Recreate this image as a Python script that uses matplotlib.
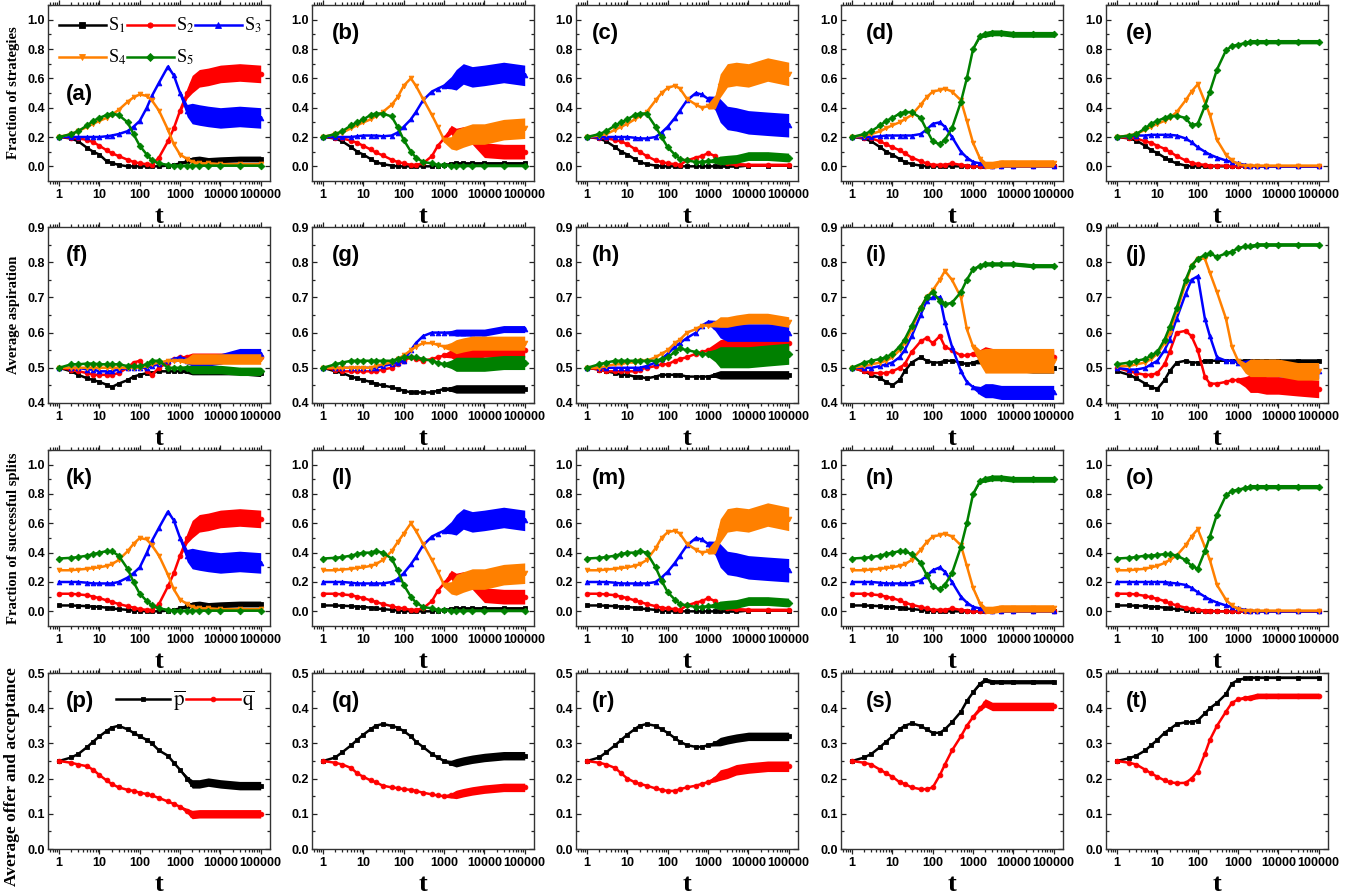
import numpy as np
import matplotlib
matplotlib.use('Agg')
import matplotlib.pyplot as plt
from matplotlib.ticker import FixedLocator, LogLocator, NullFormatter

plt.rcParams['font.family'] = ['Liberation Sans', 'DejaVu Sans']
plt.rcParams['mathtext.fontset'] = 'stix'

# ---------------- data ----------------
T = [1, 2, 3, 5, 7, 10, 15, 20, 30, 50, 70, 100, 150, 200, 300,
     500, 700, 1000, 1500, 2000, 3000, 5000, 10000, 30000, 100000]

# Row 1: fraction of strategies
a_s1 = [0.20, 0.19, 0.17, 0.125, 0.10,  0.08, 0.035, 0.023, 0.01, 0.0,  0.0, 0.0, 0.0, 0.0, 0.0,  0.005, 0.01, 0.02, 0.035, 0.045,  0.05, 0.04, 0.045, 0.05, 0.05]
a_s2 = [0.20, 0.195, 0.19, 0.18, 0.165,  0.14, 0.11, 0.09, 0.07, 0.045,  0.03, 0.02, 0.015, 0.01, 0.06,  0.17, 0.26, 0.38, 0.50, 0.56,  0.60, 0.61, 0.63, 0.64, 0.63]
a_s3 = [0.20, 0.20, 0.20, 0.20, 0.20,  0.20, 0.205, 0.21, 0.22, 0.24,  0.27, 0.31, 0.40, 0.48, 0.57,  0.68, 0.62, 0.50, 0.38, 0.36,  0.35, 0.34, 0.33, 0.34, 0.33]
a_s4 = [0.20, 0.22, 0.24, 0.27, 0.29,  0.31, 0.33, 0.35, 0.385, 0.44,  0.47, 0.49, 0.48, 0.45, 0.38,  0.25, 0.15, 0.08, 0.05, 0.03,  0.02, 0.02, 0.015, 0.015, 0.015]
a_s5 = [0.20, 0.22, 0.24, 0.28, 0.31,  0.33, 0.35, 0.36, 0.35, 0.30,  0.22, 0.14, 0.08, 0.04, 0.02,  0.01, 0.005, 0.005, 0.005, 0.005,  0.005, 0.005, 0.005, 0.005, 0.005]

b_s1 = [0.20, 0.19, 0.17, 0.13, 0.10,  0.08, 0.05, 0.03, 0.015, 0.005,  0.0, 0.0, 0.0, 0.0, 0.0,  0.0, 0.005, 0.01, 0.015, 0.02,  0.02, 0.02, 0.02, 0.02, 0.02]
b_s2 = [0.20, 0.195, 0.19, 0.175, 0.16,  0.14, 0.115, 0.095, 0.075, 0.045,  0.03, 0.02, 0.01, 0.01, 0.02,  0.07, 0.14, 0.19, 0.25, 0.21,  0.22, 0.20, 0.11, 0.10, 0.10]
b_s3 = [0.20, 0.20, 0.20, 0.20, 0.205,  0.21, 0.21, 0.21, 0.205, 0.21,  0.23, 0.27, 0.32, 0.37, 0.45,  0.51, 0.53, 0.55, 0.57, 0.59,  0.63, 0.61, 0.62, 0.64, 0.62]
b_s4 = [0.20, 0.22, 0.23, 0.26, 0.28,  0.30, 0.32, 0.34, 0.37, 0.42,  0.47, 0.55, 0.60, 0.55, 0.46,  0.35, 0.27, 0.18, 0.16, 0.18,  0.20, 0.22, 0.22, 0.25, 0.26]
b_s5 = [0.20, 0.22, 0.24, 0.28, 0.30,  0.32, 0.35, 0.36, 0.36, 0.34,  0.27, 0.18, 0.10, 0.06, 0.03,  0.02, 0.01, 0.01, 0.005, 0.005,  0.005, 0.005, 0.005, 0.005, 0.005]

c_s1 = [0.20, 0.19, 0.17, 0.13, 0.10,  0.08, 0.05, 0.03, 0.015, 0.005,  0.0, 0.0, 0.0, 0.0, 0.0,  0.0, 0.0, 0.0, 0.0, 0.0,  0.0, 0.0, 0.005, 0.005, 0.005]
c_s2 = [0.20, 0.195, 0.19, 0.18, 0.17,  0.15, 0.12, 0.10, 0.07, 0.04,  0.03, 0.02, 0.015, 0.01, 0.04,  0.06, 0.07, 0.09, 0.07, 0.03,  0.02, 0.015, 0.01, 0.01, 0.01]
c_s3 = [0.20, 0.20, 0.20, 0.20, 0.20,  0.20, 0.195, 0.19, 0.19, 0.20,  0.23, 0.27, 0.33, 0.38, 0.45,  0.50, 0.49, 0.46, 0.43, 0.38,  0.33, 0.32, 0.30, 0.29, 0.28]
c_s4 = [0.20, 0.21, 0.22, 0.25, 0.27,  0.29, 0.32, 0.34, 0.37, 0.45,  0.50, 0.535, 0.55, 0.53, 0.46,  0.42, 0.40, 0.41, 0.44, 0.55,  0.62, 0.63, 0.62, 0.66, 0.63]
c_s5 = [0.20, 0.22, 0.24, 0.28, 0.30,  0.32, 0.35, 0.36, 0.36, 0.27,  0.20, 0.13, 0.08, 0.05, 0.04,  0.03, 0.03, 0.035, 0.04, 0.04,  0.045, 0.05, 0.07, 0.07, 0.06]

d_s1 = [0.20, 0.19, 0.17, 0.13, 0.10,  0.08, 0.05, 0.03, 0.015, 0.005,  0.0, 0.0, 0.0, 0.0, 0.0,  0.0, 0.0, 0.0, 0.0, 0.0,  0.0, 0.0, 0.0, 0.0, 0.0]
d_s2 = [0.20, 0.195, 0.19, 0.17, 0.15,  0.13, 0.11, 0.09, 0.06, 0.035,  0.02, 0.01, 0.01, 0.01, 0.02,  0.01, 0.005, 0.0, 0.0, 0.0,  0.0, 0.0, 0.0, 0.0, 0.0]
d_s3 = [0.20, 0.20, 0.20, 0.205, 0.21,  0.21, 0.21, 0.21, 0.21, 0.22,  0.25, 0.29, 0.30, 0.27, 0.20,  0.10, 0.06, 0.03, 0.02, 0.01,  0.005, 0.0, 0.0, 0.0, 0.0]
d_s4 = [0.20, 0.21, 0.22, 0.24, 0.26,  0.28, 0.30, 0.32, 0.35, 0.42,  0.47, 0.51, 0.52, 0.53, 0.51,  0.45, 0.31, 0.16, 0.05, 0.01,  0.01, 0.02, 0.02, 0.02, 0.02]
d_s5 = [0.20, 0.22, 0.24, 0.28, 0.31,  0.33, 0.36, 0.37, 0.37, 0.33,  0.25, 0.17, 0.15, 0.18, 0.26,  0.44, 0.60, 0.80, 0.89, 0.90,  0.91, 0.91, 0.90, 0.90, 0.90]

e_s1 = [0.20, 0.19, 0.175, 0.14, 0.11,  0.09, 0.06, 0.04, 0.02, 0.005,  0.0, 0.0, 0.0, 0.0, 0.0,  0.0, 0.0, 0.0, 0.0, 0.0,  0.0, 0.0, 0.0, 0.0, 0.0]
e_s2 = [0.20, 0.195, 0.19, 0.17, 0.16,  0.14, 0.12, 0.10, 0.07, 0.04,  0.025, 0.015, 0.01, 0.005, 0.005,  0.005, 0.0, 0.0, 0.0, 0.0,  0.0, 0.0, 0.0, 0.0, 0.0]
e_s3 = [0.20, 0.205, 0.21, 0.21, 0.215,  0.215, 0.215, 0.215, 0.21, 0.19,  0.165, 0.13, 0.10, 0.08, 0.06,  0.04, 0.03, 0.02, 0.01, 0.005,  0.0, 0.0, 0.0, 0.0, 0.0]
e_s4 = [0.20, 0.21, 0.22, 0.25, 0.27,  0.29, 0.31, 0.33, 0.37, 0.45,  0.51, 0.56, 0.44, 0.35, 0.18,  0.08, 0.04, 0.015, 0.005, 0.005,  0.005, 0.005, 0.005, 0.005, 0.005]
e_s5 = [0.20, 0.21, 0.22, 0.26, 0.29,  0.31, 0.33, 0.34, 0.345, 0.33,  0.28, 0.29, 0.41, 0.51, 0.66,  0.79, 0.82, 0.83, 0.84, 0.85,  0.85, 0.85, 0.85, 0.85, 0.85]

# Row 2: average aspiration
f_s1 = [0.50, 0.49, 0.48, 0.47, 0.465,  0.46, 0.452, 0.445, 0.455, 0.465,  0.475, 0.48, 0.485, 0.485, 0.49,  0.49, 0.49, 0.49, 0.49, 0.49,  0.49, 0.49, 0.49, 0.49, 0.485]
f_s2 = [0.50, 0.495, 0.49, 0.485, 0.48,  0.48, 0.48, 0.48, 0.485, 0.50,  0.515, 0.52, 0.49, 0.48, 0.50,  0.515, 0.525, 0.53, 0.53, 0.53,  0.53, 0.53, 0.53, 0.53, 0.53]
f_s3 = [0.50, 0.50, 0.50, 0.495, 0.495,  0.49, 0.49, 0.49, 0.495, 0.50,  0.50, 0.50, 0.50, 0.505, 0.51,  0.52, 0.525, 0.53, 0.52, 0.52,  0.52, 0.52, 0.525, 0.54, 0.54]
f_s4 = [0.50, 0.50, 0.50, 0.50, 0.50,  0.50, 0.50, 0.50, 0.50, 0.50,  0.50, 0.50, 0.505, 0.51, 0.515,  0.52, 0.52, 0.52, 0.52, 0.525,  0.525, 0.525, 0.525, 0.525, 0.525]
f_s5 = [0.50, 0.51, 0.51, 0.512, 0.512,  0.51, 0.51, 0.51, 0.51, 0.505,  0.505, 0.505, 0.51, 0.52, 0.52,  0.50, 0.50, 0.50, 0.50, 0.495,  0.495, 0.495, 0.495, 0.49, 0.49]

g_s1 = [0.50, 0.49, 0.485, 0.475, 0.47,  0.465, 0.46, 0.455, 0.45, 0.445,  0.44, 0.435, 0.43, 0.43, 0.43,  0.43, 0.435, 0.44, 0.44, 0.44,  0.44, 0.44, 0.44, 0.44, 0.44]
g_s2 = [0.50, 0.495, 0.49, 0.49, 0.49,  0.49, 0.49, 0.49, 0.495, 0.50,  0.51, 0.52, 0.53, 0.525, 0.52,  0.525, 0.53, 0.535, 0.54, 0.54,  0.545, 0.545, 0.55, 0.55, 0.55]
g_s3 = [0.50, 0.50, 0.50, 0.50, 0.50,  0.50, 0.50, 0.50, 0.505, 0.51,  0.515, 0.52, 0.55, 0.57, 0.59,  0.60, 0.60, 0.60, 0.60, 0.60,  0.60, 0.60, 0.60, 0.61, 0.61]
g_s4 = [0.50, 0.50, 0.50, 0.50, 0.50,  0.50, 0.50, 0.505, 0.51, 0.515,  0.525, 0.535, 0.55, 0.56, 0.57,  0.57, 0.565, 0.56, 0.56, 0.56,  0.565, 0.57, 0.57, 0.57, 0.57]
g_s5 = [0.50, 0.51, 0.515, 0.52, 0.52,  0.52, 0.52, 0.52, 0.52, 0.52,  0.525, 0.53, 0.53, 0.53, 0.525,  0.52, 0.515, 0.51, 0.51, 0.51,  0.51, 0.51, 0.51, 0.515, 0.515]

h_s1 = [0.50, 0.495, 0.49, 0.485, 0.48,  0.48, 0.475, 0.475, 0.47, 0.475,  0.48, 0.48, 0.48, 0.48, 0.475,  0.475, 0.475, 0.475, 0.48, 0.48,  0.48, 0.48, 0.48, 0.48, 0.48]
h_s2 = [0.50, 0.495, 0.49, 0.49, 0.49,  0.49, 0.49, 0.495, 0.50, 0.505,  0.51, 0.51, 0.52, 0.525, 0.53,  0.54, 0.545, 0.55, 0.555, 0.555,  0.56, 0.56, 0.56, 0.565, 0.57]
h_s3 = [0.50, 0.50, 0.50, 0.50, 0.50,  0.50, 0.50, 0.50, 0.505, 0.515,  0.525, 0.54, 0.56, 0.57, 0.585,  0.60, 0.62, 0.63, 0.62, 0.61,  0.60, 0.60, 0.60, 0.60, 0.60]
h_s4 = [0.50, 0.50, 0.505, 0.51, 0.51,  0.515, 0.515, 0.52, 0.52, 0.53,  0.54, 0.55, 0.57, 0.58, 0.60,  0.61, 0.62, 0.62, 0.625, 0.63,  0.63, 0.635, 0.64, 0.64, 0.63]
h_s5 = [0.50, 0.51, 0.515, 0.52, 0.52,  0.52, 0.52, 0.52, 0.52, 0.52,  0.525, 0.53, 0.545, 0.555, 0.55,  0.545, 0.54, 0.54, 0.535, 0.53,  0.53, 0.53, 0.53, 0.535, 0.54]

i_s1 = [0.50, 0.49, 0.48, 0.47, 0.46,  0.45, 0.465, 0.49, 0.515, 0.53,  0.52, 0.515, 0.515, 0.52, 0.52,  0.515, 0.51, 0.515, 0.52, 0.52,  0.515, 0.51, 0.505, 0.50, 0.50]
i_s2 = [0.50, 0.49, 0.485, 0.485, 0.485,  0.49, 0.50, 0.51, 0.545, 0.575,  0.585, 0.57, 0.59, 0.56, 0.55,  0.535, 0.535, 0.54, 0.54, 0.54,  0.535, 0.53, 0.53, 0.53, 0.53]
i_s3 = [0.50, 0.50, 0.50, 0.505, 0.51,  0.515, 0.53, 0.55, 0.59, 0.65,  0.69, 0.70, 0.70, 0.63, 0.56,  0.49, 0.46, 0.445, 0.435, 0.435,  0.435, 0.43, 0.43, 0.43, 0.43]
i_s4 = [0.50, 0.505, 0.51, 0.515, 0.52,  0.53, 0.55, 0.57, 0.61, 0.67,  0.70, 0.72, 0.75, 0.775, 0.75,  0.70, 0.61, 0.56, 0.53, 0.52,  0.52, 0.52, 0.52, 0.52, 0.52]
i_s5 = [0.50, 0.515, 0.52, 0.525, 0.53,  0.54, 0.56, 0.58, 0.62, 0.67,  0.70, 0.715, 0.69, 0.68, 0.685,  0.715, 0.75, 0.78, 0.79, 0.795,  0.795, 0.795, 0.795, 0.79, 0.79]

j_s1 = [0.49, 0.48, 0.47, 0.455, 0.445,  0.44, 0.465, 0.49, 0.515, 0.52,  0.515, 0.515, 0.52, 0.52, 0.52,  0.52, 0.52, 0.52, 0.52, 0.52,  0.52, 0.52, 0.52, 0.52, 0.52]
j_s2 = [0.50, 0.49, 0.485, 0.48, 0.48,  0.485, 0.51, 0.545, 0.60, 0.605,  0.59, 0.55, 0.475, 0.455, 0.455,  0.46, 0.465, 0.465, 0.46, 0.455,  0.455, 0.45, 0.45, 0.445, 0.44]
j_s3 = [0.50, 0.495, 0.495, 0.50, 0.51,  0.52, 0.55, 0.58, 0.64, 0.71,  0.75, 0.76, 0.64, 0.59, 0.53,  0.52, 0.52, 0.515, 0.51, 0.505,  0.50, 0.50, 0.495, 0.49, 0.49]
j_s4 = [0.505, 0.505, 0.51, 0.515, 0.525,  0.54, 0.57, 0.60, 0.66, 0.74,  0.79, 0.81, 0.81, 0.77, 0.715,  0.64, 0.56, 0.52, 0.50, 0.50,  0.50, 0.50, 0.50, 0.49, 0.49]
j_s5 = [0.51, 0.515, 0.52, 0.525, 0.535,  0.545, 0.58, 0.615, 0.67, 0.75,  0.79, 0.81, 0.82, 0.825, 0.815,  0.825, 0.83, 0.84, 0.845, 0.845,  0.85, 0.85, 0.85, 0.85, 0.85]

# Row 3: fraction of successful splits
k_s1 = [0.04, 0.04, 0.038, 0.035, 0.032,  0.03, 0.025, 0.02, 0.015, 0.01,  0.005, 0.003, 0.0, 0.0, 0.0,  0.005, 0.01, 0.02, 0.035, 0.045,  0.05, 0.04, 0.045, 0.05, 0.05]
k_s2 = [0.12, 0.12, 0.115, 0.11, 0.10,  0.09, 0.075, 0.065, 0.05, 0.035,  0.025, 0.015, 0.01, 0.01, 0.05,  0.17, 0.26, 0.38, 0.50, 0.56,  0.60, 0.61, 0.63, 0.64, 0.63]
k_s3 = [0.20, 0.20, 0.20, 0.195, 0.19,  0.19, 0.19, 0.19, 0.20, 0.23,  0.26, 0.30, 0.40, 0.48, 0.57,  0.68, 0.62, 0.50, 0.38, 0.36,  0.35, 0.34, 0.33, 0.34, 0.33]
k_s4 = [0.28, 0.28, 0.285, 0.29, 0.295,  0.30, 0.31, 0.32, 0.35, 0.41,  0.46, 0.50, 0.49, 0.45, 0.38,  0.25, 0.15, 0.08, 0.05, 0.03,  0.02, 0.02, 0.015, 0.015, 0.015]
k_s5 = [0.36, 0.365, 0.37, 0.38, 0.39,  0.40, 0.41, 0.41, 0.38, 0.29,  0.20, 0.12, 0.07, 0.04, 0.02,  0.01, 0.005, 0.005, 0.005, 0.005,  0.005, 0.005, 0.005, 0.005, 0.005]

l_s1 = [0.04, 0.04, 0.038, 0.035, 0.032,  0.03, 0.025, 0.02, 0.015, 0.01,  0.005, 0.003, 0.0, 0.0, 0.0,  0.0, 0.005, 0.01, 0.015, 0.02,  0.02, 0.02, 0.02, 0.02, 0.02]
l_s2 = [0.12, 0.12, 0.115, 0.11, 0.10,  0.09, 0.075, 0.065, 0.05, 0.035,  0.025, 0.02, 0.01, 0.01, 0.02,  0.07, 0.14, 0.19, 0.25, 0.21,  0.22, 0.20, 0.11, 0.10, 0.10]
l_s3 = [0.20, 0.20, 0.20, 0.195, 0.19,  0.19, 0.19, 0.19, 0.19, 0.20,  0.22, 0.26, 0.32, 0.37, 0.45,  0.51, 0.53, 0.55, 0.57, 0.59,  0.63, 0.61, 0.62, 0.64, 0.62]
l_s4 = [0.28, 0.28, 0.285, 0.29, 0.295,  0.30, 0.31, 0.32, 0.35, 0.41,  0.47, 0.53, 0.60, 0.55, 0.46,  0.35, 0.27, 0.18, 0.16, 0.18,  0.20, 0.22, 0.22, 0.25, 0.26]
l_s5 = [0.36, 0.365, 0.37, 0.38, 0.39,  0.40, 0.40, 0.41, 0.40, 0.36,  0.28, 0.18, 0.10, 0.06, 0.03,  0.02, 0.01, 0.01, 0.005, 0.005,  0.005, 0.005, 0.005, 0.005, 0.005]

m_s1 = [0.04, 0.04, 0.038, 0.035, 0.032,  0.03, 0.025, 0.02, 0.015, 0.01,  0.005, 0.003, 0.0, 0.0, 0.0,  0.0, 0.0, 0.0, 0.0, 0.0,  0.0, 0.0, 0.005, 0.005, 0.005]
m_s2 = [0.12, 0.12, 0.115, 0.11, 0.10,  0.09, 0.075, 0.065, 0.05, 0.035,  0.025, 0.02, 0.015, 0.01, 0.04,  0.06, 0.07, 0.09, 0.07, 0.03,  0.02, 0.015, 0.01, 0.01, 0.01]
m_s3 = [0.20, 0.20, 0.20, 0.195, 0.19,  0.19, 0.19, 0.19, 0.19, 0.20,  0.23, 0.27, 0.33, 0.38, 0.45,  0.50, 0.49, 0.46, 0.43, 0.38,  0.33, 0.32, 0.30, 0.29, 0.28]
m_s4 = [0.28, 0.28, 0.285, 0.29, 0.295,  0.30, 0.31, 0.32, 0.35, 0.43,  0.50, 0.54, 0.55, 0.53, 0.46,  0.42, 0.40, 0.41, 0.44, 0.55,  0.62, 0.63, 0.62, 0.66, 0.63]
m_s5 = [0.36, 0.365, 0.37, 0.38, 0.39,  0.40, 0.40, 0.41, 0.40, 0.30,  0.21, 0.13, 0.08, 0.05, 0.04,  0.03, 0.03, 0.035, 0.04, 0.04,  0.045, 0.05, 0.07, 0.07, 0.06]

n_s1 = [0.04, 0.04, 0.038, 0.035, 0.032,  0.03, 0.025, 0.02, 0.015, 0.01,  0.005, 0.003, 0.0, 0.0, 0.0,  0.0, 0.0, 0.0, 0.0, 0.0,  0.0, 0.0, 0.0, 0.0, 0.0]
n_s2 = [0.12, 0.12, 0.115, 0.11, 0.10,  0.09, 0.075, 0.06, 0.045, 0.03,  0.02, 0.01, 0.01, 0.01, 0.02,  0.01, 0.005, 0.0, 0.0, 0.0,  0.0, 0.0, 0.0, 0.0, 0.0]
n_s3 = [0.20, 0.20, 0.20, 0.195, 0.19,  0.19, 0.19, 0.19, 0.195, 0.21,  0.24, 0.28, 0.30, 0.27, 0.20,  0.10, 0.06, 0.03, 0.02, 0.01,  0.005, 0.0, 0.0, 0.0, 0.0]
n_s4 = [0.28, 0.28, 0.285, 0.29, 0.295,  0.30, 0.31, 0.32, 0.35, 0.42,  0.47, 0.51, 0.52, 0.53, 0.51,  0.45, 0.31, 0.16, 0.05, 0.01,  0.01, 0.02, 0.02, 0.02, 0.02]
n_s5 = [0.36, 0.365, 0.37, 0.38, 0.39,  0.40, 0.41, 0.41, 0.39, 0.33,  0.25, 0.17, 0.15, 0.18, 0.26,  0.44, 0.60, 0.80, 0.89, 0.90,  0.91, 0.91, 0.90, 0.90, 0.90]

o_s1 = [0.04, 0.04, 0.038, 0.035, 0.032,  0.03, 0.025, 0.02, 0.015, 0.01,  0.005, 0.003, 0.0, 0.0, 0.0,  0.0, 0.0, 0.0, 0.0, 0.0,  0.0, 0.0, 0.0, 0.0, 0.0]
o_s2 = [0.12, 0.12, 0.115, 0.105, 0.095,  0.085, 0.07, 0.055, 0.04, 0.025,  0.015, 0.01, 0.005, 0.005, 0.0,  0.0, 0.0, 0.0, 0.0, 0.0,  0.0, 0.0, 0.0, 0.0, 0.0]
o_s3 = [0.20, 0.20, 0.20, 0.20, 0.20,  0.20, 0.20, 0.195, 0.19, 0.18,  0.16, 0.13, 0.10, 0.08, 0.06,  0.04, 0.03, 0.02, 0.01, 0.005,  0.0, 0.0, 0.0, 0.0, 0.0]
o_s4 = [0.28, 0.28, 0.285, 0.29, 0.30,  0.31, 0.33, 0.35, 0.38, 0.45,  0.51, 0.56, 0.44, 0.35, 0.18,  0.08, 0.04, 0.015, 0.005, 0.005,  0.005, 0.005, 0.005, 0.005, 0.005]
o_s5 = [0.36, 0.365, 0.37, 0.38, 0.38,  0.385, 0.39, 0.39, 0.38, 0.35,  0.31, 0.29, 0.41, 0.51, 0.66,  0.79, 0.82, 0.83, 0.84, 0.85,  0.85, 0.85, 0.85, 0.85, 0.85]

# Row 4: average offer (p) and acceptance (q)
p_p = [0.25, 0.26, 0.27, 0.29, 0.305,  0.32, 0.335, 0.345, 0.35, 0.34,  0.33, 0.32, 0.31, 0.30, 0.28,  0.265, 0.245, 0.225, 0.20, 0.185,  0.185, 0.19, 0.185, 0.18, 0.18]
p_q = [0.25, 0.245, 0.24, 0.235, 0.225,  0.21, 0.195, 0.185, 0.175, 0.168,  0.165, 0.16, 0.156, 0.152, 0.145,  0.135, 0.128, 0.12, 0.108, 0.098,  0.10, 0.10, 0.10, 0.10, 0.10]
q_p = [0.25, 0.26, 0.275, 0.295, 0.31,  0.325, 0.34, 0.35, 0.355, 0.35,  0.345, 0.335, 0.32, 0.305, 0.29,  0.27, 0.26, 0.25, 0.245, 0.245,  0.25, 0.255, 0.26, 0.265, 0.265]
q_q = [0.25, 0.245, 0.24, 0.23, 0.215,  0.205, 0.195, 0.19, 0.18, 0.175,  0.173, 0.17, 0.168, 0.165, 0.16,  0.155, 0.152, 0.15, 0.152, 0.155,  0.16, 0.165, 0.17, 0.175, 0.175]
r_p = [0.25, 0.26, 0.275, 0.295, 0.31,  0.325, 0.34, 0.35, 0.355, 0.35,  0.34, 0.33, 0.315, 0.305, 0.295,  0.29, 0.29, 0.295, 0.30, 0.305,  0.31, 0.315, 0.32, 0.32, 0.32]
r_q = [0.25, 0.245, 0.24, 0.23, 0.215,  0.20, 0.19, 0.185, 0.18, 0.172,  0.168, 0.165, 0.165, 0.17, 0.175,  0.18, 0.185, 0.19, 0.20, 0.21,  0.215, 0.225, 0.23, 0.235, 0.235]
s_p = [0.25, 0.26, 0.27, 0.29, 0.305,  0.32, 0.34, 0.35, 0.357, 0.35,  0.34, 0.33, 0.33, 0.34, 0.36,  0.39, 0.42, 0.445, 0.47, 0.48,  0.475, 0.475, 0.475, 0.475, 0.475]
s_q = [0.25, 0.245, 0.24, 0.225, 0.215,  0.205, 0.19, 0.185, 0.175, 0.17,  0.17, 0.175, 0.21, 0.24, 0.28,  0.32, 0.35, 0.375, 0.40, 0.415,  0.405, 0.405, 0.405, 0.405, 0.405]
t_p = [0.25, 0.258, 0.265, 0.28, 0.295,  0.31, 0.33, 0.34, 0.355, 0.36,  0.36, 0.365, 0.385, 0.40, 0.415,  0.44, 0.47, 0.48, 0.485, 0.487,  0.487, 0.487, 0.487, 0.487, 0.487]
t_q = [0.25, 0.245, 0.24, 0.225, 0.215,  0.205, 0.195, 0.19, 0.187, 0.188,  0.20, 0.22, 0.27, 0.31, 0.35,  0.39, 0.415, 0.425, 0.43, 0.43,  0.435, 0.435, 0.435, 0.435, 0.435]

# late-time fluctuation half-widths (per series)
AMP_ROW1 = [[0.02, 0.06, 0.07, 0.01, 0.005], [0.01, 0.05, 0.07, 0.07, 0.008],
            [0.005, 0.01, 0.08, 0.08, 0.03], [0.0, 0.0, 0.0, 0.025, 0.02],
            [0.0, 0.0, 0.0, 0.005, 0.015]]
AMP_ROW2 = [[0.01, 0.012, 0.015, 0.015, 0.012], [0.012, 0.02, 0.01, 0.02, 0.02],
            [0.012, 0.025, 0.025, 0.015, 0.03], [0.015, 0.02, 0.02, 0.035, 0.006],
            [0.005, 0.025, 0.02, 0.025, 0.005]]
AMP_ROW4 = [[0.012, 0.012], [0.012, 0.012], [0.012, 0.015], [0.006, 0.012], [0.003, 0.008]]

PANEL_LABELS = ['(a)', '(b)', '(c)', '(d)', '(e)', '(f)', '(g)', '(h)', '(i)', '(j)',
                '(k)', '(l)', '(m)', '(n)', '(o)', '(p)', '(q)', '(r)', '(s)', '(t)']
ROW_YLABELS = ['Fraction of strategies', 'Average aspiration',
               'Fraction of successful splits', 'Average offer and acceptance']
SERIES_NAMES = [r'S$_1$', r'S$_2$', r'S$_3$', r'S$_4$', r'S$_5$']
PQ_NAMES = [r'$\overline{\mathrm{p}}$', r'$\overline{\mathrm{q}}$']
X_TICKS = [1, 10, 100, 1000, 10000, 100000]

rows = [
    [[a_s1, a_s2, a_s3, a_s4, a_s5], [b_s1, b_s2, b_s3, b_s4, b_s5], [c_s1, c_s2, c_s3, c_s4, c_s5],
     [d_s1, d_s2, d_s3, d_s4, d_s5], [e_s1, e_s2, e_s3, e_s4, e_s5]],
    [[f_s1, f_s2, f_s3, f_s4, f_s5], [g_s1, g_s2, g_s3, g_s4, g_s5], [h_s1, h_s2, h_s3, h_s4, h_s5],
     [i_s1, i_s2, i_s3, i_s4, i_s5], [j_s1, j_s2, j_s3, j_s4, j_s5]],
    [[k_s1, k_s2, k_s3, k_s4, k_s5], [l_s1, l_s2, l_s3, l_s4, l_s5], [m_s1, m_s2, m_s3, m_s4, m_s5],
     [n_s1, n_s2, n_s3, n_s4, n_s5], [o_s1, o_s2, o_s3, o_s4, o_s5]],
    [[p_p, p_q], [q_p, q_q], [r_p, r_q], [s_p, s_q], [t_p, t_q]],
]
amps = [AMP_ROW1, AMP_ROW2, AMP_ROW1, AMP_ROW4]

COLORS5 = ['black', 'red', 'blue', '#FF8000', '#008000']
MARKERS5 = ['s', 'o', '^', 'v', 'D']
COLORS2 = ['black', 'red']
MARKERS2 = ['s', 'o']

# ---------------- figure ----------------
W, H = 1350, 894
fig = plt.figure(figsize=(W / 100, H / 100), dpi=100)

lefts = [48, 312, 576, 841, 1106]
tops = [5, 227, 450, 673]
aw, ah = 222, 176
ylims = [(-0.1, 1.1), (0.4, 0.9), (-0.1, 1.1), (0.0, 0.5)]
yticks = [[0.0, 0.2, 0.4, 0.6, 0.8, 1.0], [0.4, 0.5, 0.6, 0.7, 0.8, 0.9],
          [0.0, 0.2, 0.4, 0.6, 0.8, 1.0], [0.0, 0.1, 0.2, 0.3, 0.4, 0.5]]
label_x = [0.08, 0.09, 0.07, 0.11, 0.09]
ylabel_size = [10.5, 10.5, 10.5, 12.5]
ylabel_y = [0.5, 0.5, 0.5, 0.41]

tick_font = {'family': 'Liberation Sans', 'weight': 'bold', 'size': 9}
t = np.array(T, dtype=float)
# how much of the fluctuation band is shown as noise sets in (styling only)
band_weight = np.where(t >= 2000, 1.0, np.where(t >= 1500, 0.6, np.where(t >= 1000, 0.25, 0.0)))
legend_handles = None
pq_handles = None

for r in range(4):
    for c in range(5):
        ax = fig.add_axes([lefts[c] / W, 1 - (tops[r] + ah) / H, aw / W, ah / H])
        series = rows[r][c]
        if r == 3:
            cols, mks = COLORS2, MARKERS2
        else:
            cols, mks = COLORS5, MARKERS5
        hs = []
        for k, y in enumerate(series):
            y = np.array(y, dtype=float)
            a = amps[r][c][k]
            z = 2 + k
            if a > 0:
                m = t >= 1000
                w = a * band_weight[m]
                ax.fill_between(t[m], y[m] - w, y[m] + w, color=cols[k], lw=0, zorder=z)
            ln, = ax.plot(t, y, color=cols[k], lw=1.8, marker=mks[k], ms=3.4,
                          markeredgewidth=0.6, zorder=z)
            hs.append(ln)
        if r == 0 and c == 0:
            legend_handles = hs
        if r == 3 and c == 0:
            pq_handles = hs

        ax.set_xscale('log')
        ax.set_xlim(0.53, 1.7e5)
        ax.set_ylim(*ylims[r])
        ax.xaxis.set_major_locator(FixedLocator(X_TICKS))
        ax.set_xticklabels([str(v) for v in X_TICKS], fontdict=tick_font)
        ax.xaxis.set_minor_locator(LogLocator(base=10, subs=np.arange(2, 10), numticks=20))
        ax.xaxis.set_minor_formatter(NullFormatter())
        ax.set_yticks(yticks[r])
        ax.set_yticklabels(['%.1f' % v for v in yticks[r]], fontdict=tick_font)
        ax.yaxis.set_minor_locator(FixedLocator([v + 0.05 if r in (1, 3) else v + 0.1
                                                 for v in yticks[r]]))
        ax.tick_params(axis='x', which='both', direction='out', top=True, bottom=True,
                       width=0.9, colors='#222222', labelcolor='black', pad=2.5)
        ax.tick_params(axis='y', which='both', direction='in', left=True, right=True,
                       width=0.9, colors='#222222', labelcolor='black', pad=2)
        ax.tick_params(which='major', length=3.5)
        ax.tick_params(which='minor', length=2)
        for sp in ax.spines.values():
            sp.set_linewidth(1.0)
            sp.set_color('#333333')

        ax.set_xlabel('t', fontdict={'family': 'Liberation Serif', 'weight': 'bold', 'size': 19})
        ax.xaxis.set_label_coords(0.5, -0.2)
        ax.xaxis.label.set_va('center')
        if c == 0:
            ax.set_ylabel(ROW_YLABELS[r], fontdict={'family': 'Liberation Serif',
                                                    'weight': 'bold', 'size': ylabel_size[r]})
            ax.yaxis.set_label_coords(-0.125, ylabel_y[r])

        ly = 0.49 if (r == 0 and c == 0) else 0.84
        ax.text(label_x[c], ly, PANEL_LABELS[r * 5 + c], transform=ax.transAxes,
                fontsize=16, fontweight='bold', family='Liberation Sans',
                ha='left', va='center', zorder=20)

        if r == 0 and c == 0:
            order = [0, 3, 1, 4, 2]
            ax.legend([legend_handles[i] for i in order], [SERIES_NAMES[i] for i in order],
                      ncol=3, loc='upper left', bbox_to_anchor=(0.0, 1.0), frameon=False,
                      prop={'family': 'Liberation Serif', 'size': 13},
                      handlelength=2.6, handletextpad=0.1, columnspacing=0.05,
                      labelspacing=0.7, borderaxespad=0.2, markerscale=1.1)
        if r == 3 and c == 0:
            ax.legend(pq_handles, PQ_NAMES, ncol=2, loc='center left',
                      bbox_to_anchor=(0.27, 0.84), frameon=False,
                      prop={'family': 'Liberation Serif', 'size': 15},
                      handlelength=2.6, handletextpad=0.1, columnspacing=0.05,
                      borderaxespad=0.0)

fig.savefig('out.png', dpi=100)
